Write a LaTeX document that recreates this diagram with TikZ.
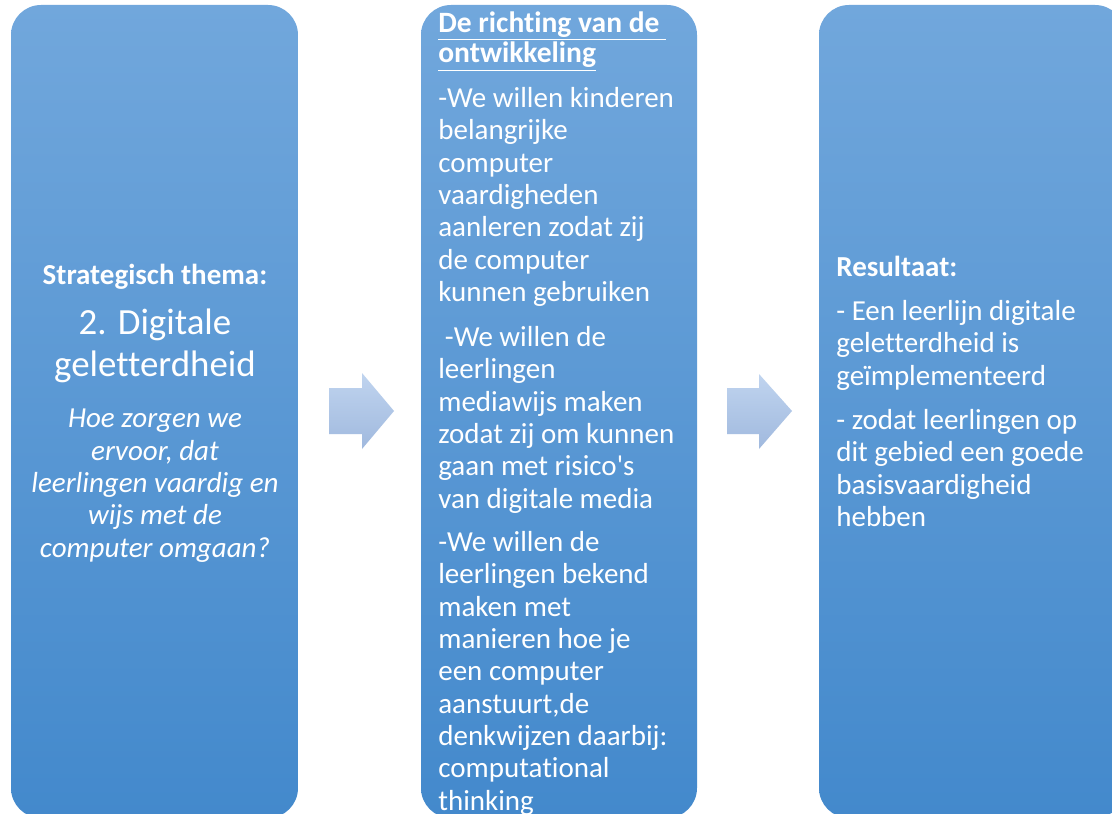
\documentclass[tikz,border=0pt]{standalone}
\usepackage{fontspec}
\setmainfont{Carlito}[Ligatures=TeXOff, RawFeature={-liga;-clig;-calt;-dlig}]
\definecolor{boxtop}{RGB}{113,167,220}
\definecolor{boxbot}{RGB}{67,137,204}
\definecolor{arrtop}{RGB}{192,212,239}
\definecolor{arrbot}{RGB}{160,185,222}

\tikzset{
  panel/.style={top color=boxtop, bottom color=boxbot, rounded corners=0.6cm},
  flow/.style={top color=arrtop, bottom color=arrbot},
  body/.style={text=white, inner sep=0pt, font=\fontsize{16.5}{18.4}\selectfont},
  bodyl/.style={body, align=left, anchor=north west},
  bodyc/.style={body, align=center, anchor=north}
}

\begin{document}
\begin{tikzpicture}[x=0.02cm, y=-0.02cm]
\useasboundingbox (0,0) rectangle (1112,814);
\clip (0,0) rectangle (1112,814);
\fill[white] (0,0) rectangle (1112,814);

% panels
\shade[panel] (11,5) rectangle (298,818);
\shade[panel] (421,5) rectangle (697,818);
\shade[panel] (819,5) rectangle (1125,818);

% block arrows
\shade[flow] (329,388) -- (362,388) -- (362,373) -- (394,411) -- (362,449) -- (362,434) -- (329,434) -- cycle;
\shade[flow] (727,388) -- (759,388) -- (759,374) -- (792,411) -- (759,449) -- (759,434) -- (727,434) -- cycle;

% left panel
\node[bodyc, font=\bfseries\fontsize{16.5}{18.4}\selectfont] (thema) at (155,264) {Strategisch thema:};
\node[bodyc, font=\fontsize{21}{23.4}\selectfont] (digi) at (155,309) {2. Digitale\\geletterdheid};
\node[bodyc, font=\itshape\fontsize{16.5}{18.4}\selectfont] (vraag) at (155,409)
  {Hoe zorgen we\\ervoor, dat\\leerlingen vaardig en\\wijs met de\\computer omgaan?};

% middle panel
\node[bodyl, font=\bfseries\fontsize{16.8}{17.6}\selectfont] (richting) at (438,11)
  {\underline{De richting van de\ }\\\underline{ontwikkeling}};
\node[bodyl] (doel1) at (438,87)
  {-We willen kinderen\\belangrijke\\computer\\vaardigheden\\aanleren zodat zij\\de computer\\kunnen gebruiken};
\node[bodyl] (doel2) at (438,326)
  {\ -We willen de\\leerlingen\\mediawijs maken\\zodat zij om kunnen\\gaan met risico's\\van digitale media};
\node[bodyl] (doel3) at (438,531)
  {-We willen de\\leerlingen bekend\\maken met\\manieren hoe je\\een computer\\aanstuurt,de\\denkwijzen daarbij:\\computational\\thinking};

% right panel
\node[bodyl, font=\bfseries\fontsize{16.5}{18.4}\selectfont] (result) at (836,256) {Resultaat:};
\node[bodyl] (res1) at (836,300) {- Een leerlijn digitale\\geletterdheid is\\geïmplementeerd};
\node[bodyl] (res2) at (836,409) {- zodat leerlingen op\\dit gebied een goede\\basisvaardigheid\\hebben};
\end{tikzpicture}
\end{document}
